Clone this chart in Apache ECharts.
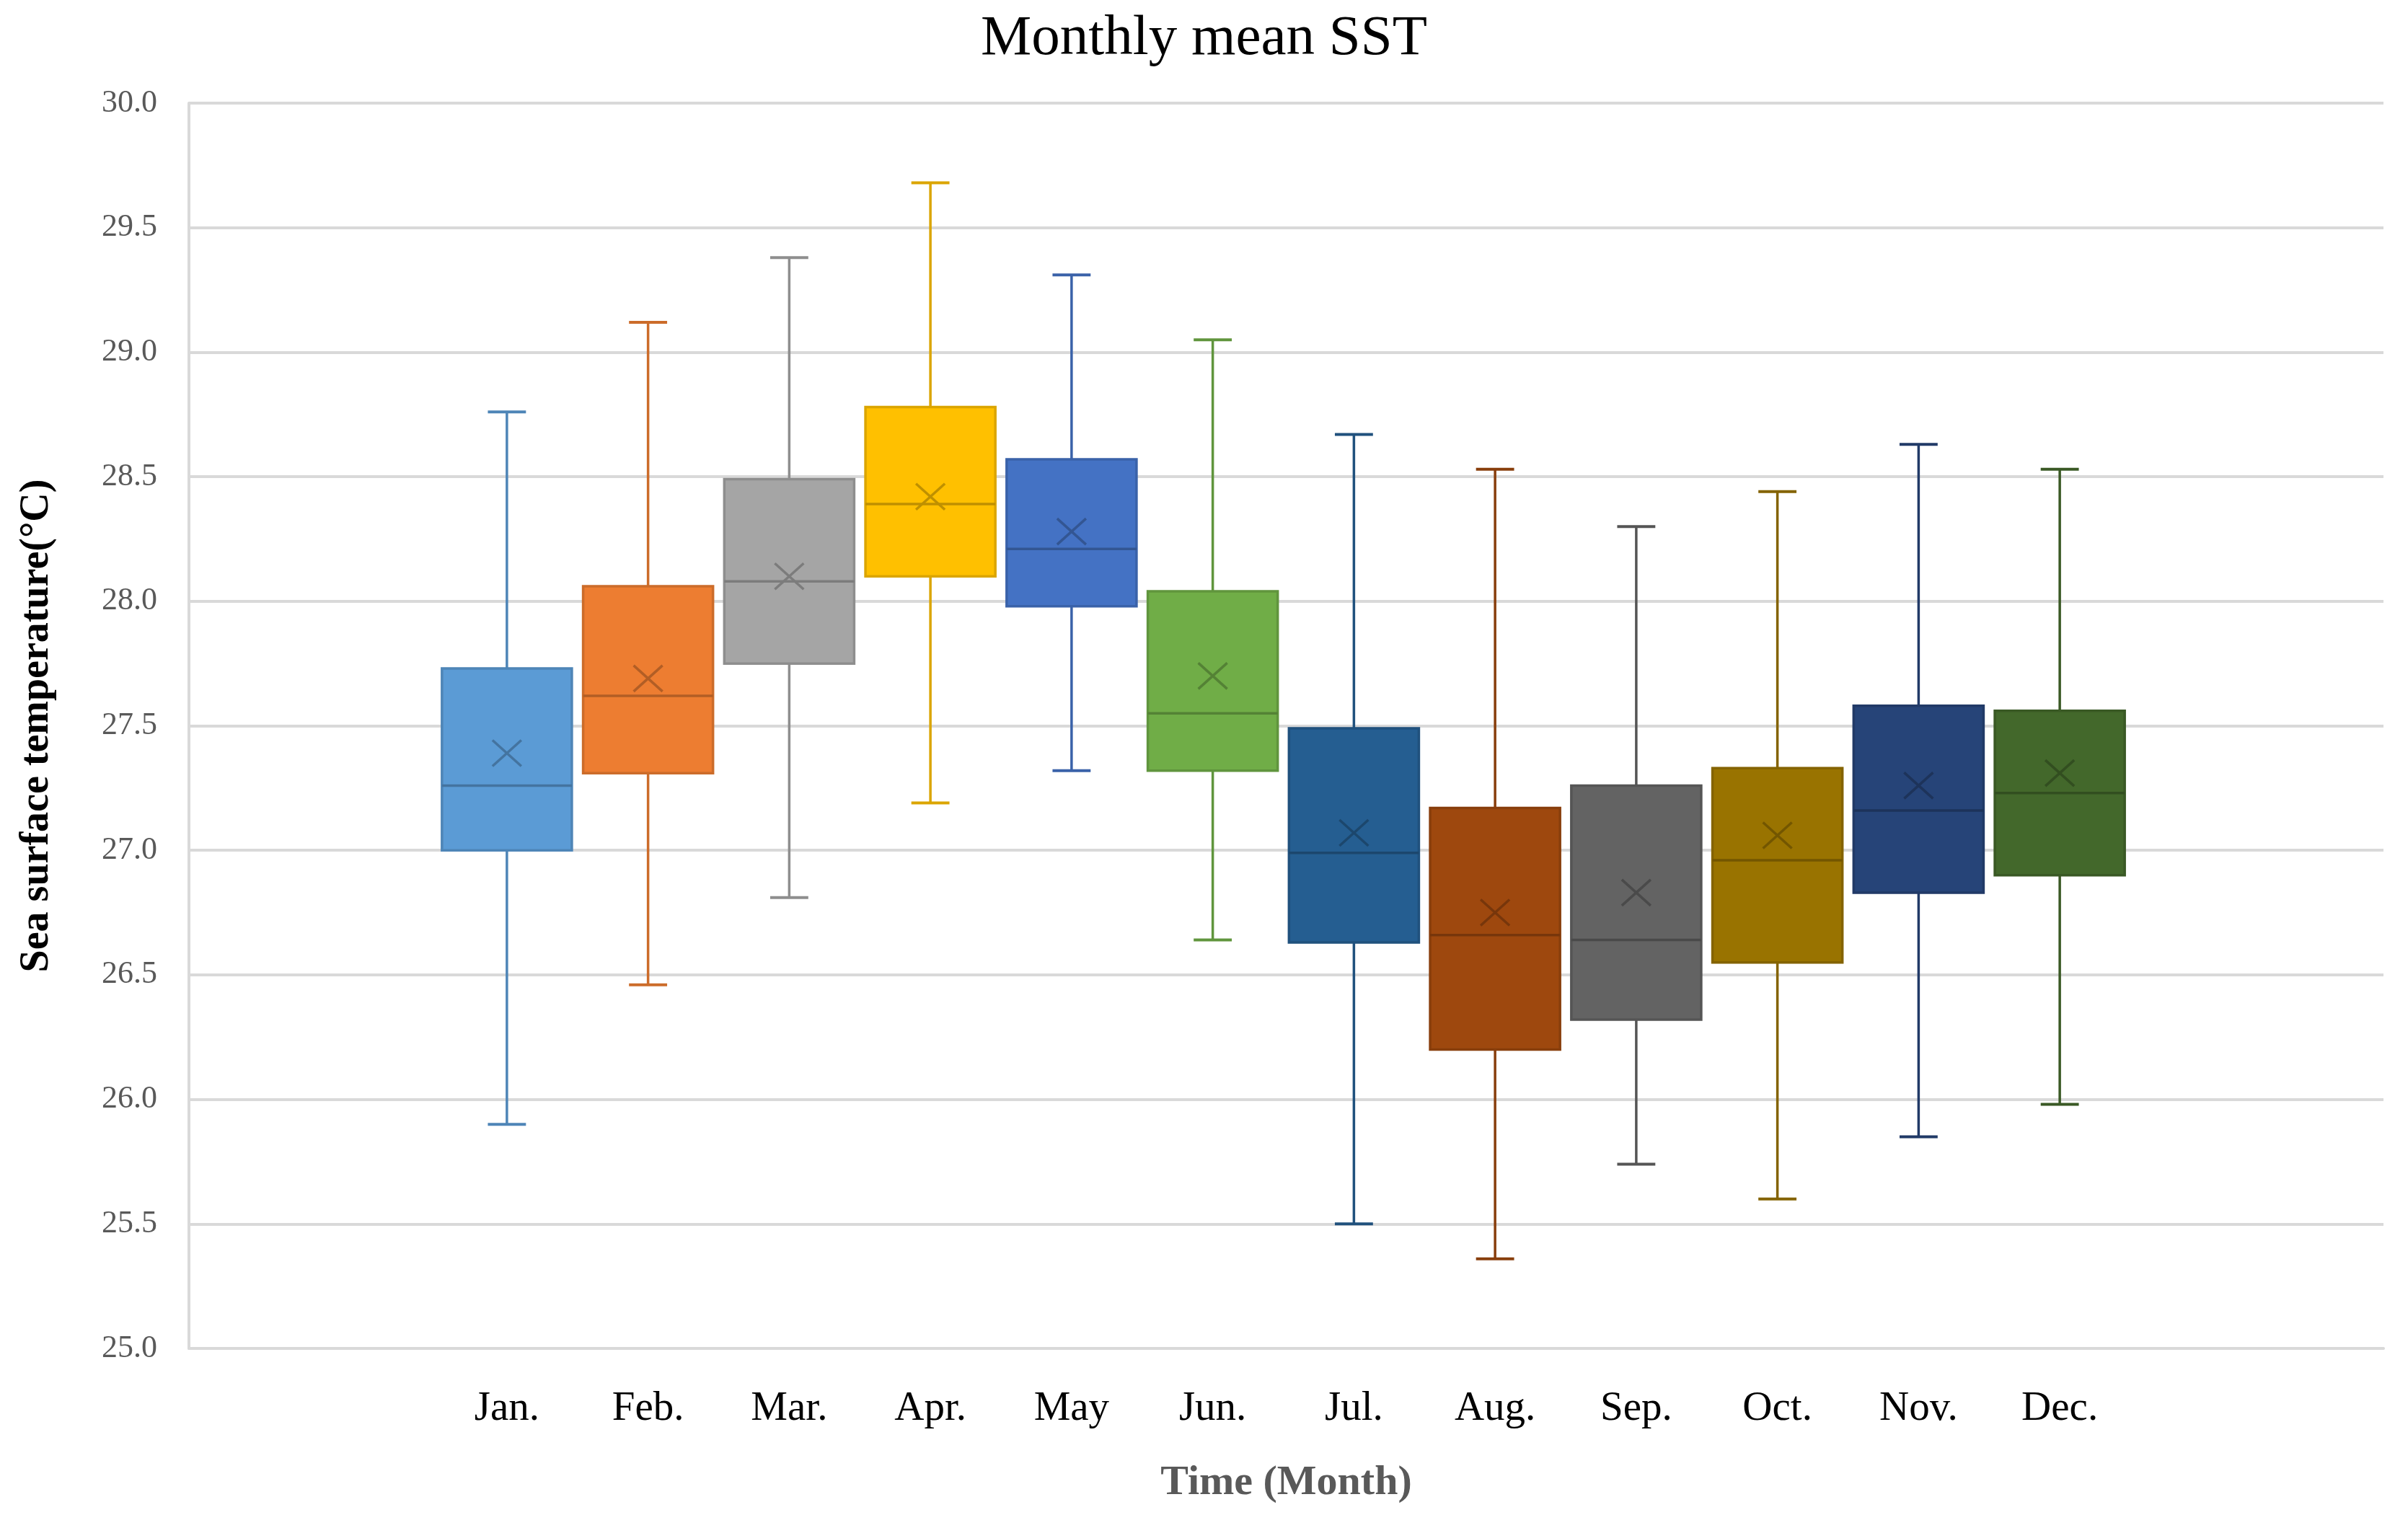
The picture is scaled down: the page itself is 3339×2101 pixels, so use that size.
<!DOCTYPE html>
<html>
<head>
<meta charset="utf-8">
<script src="https://cdn.jsdelivr.net/npm/echarts@6/dist/echarts.min.js"></script>
<style>
html,body{margin:0;padding:0;background:#fff;}
#chart{width:3339px;height:2101px;}
</style>
</head>
<body>
<div id="chart"></div>
<script>
const months = ['Jan.','Feb.','Mar.','Apr.','May','Jun.','Jul.','Aug.','Sep.','Oct.','Nov.','Dec.'];
const whiskerLow  = [25.90, 26.46, 26.81, 27.19, 27.32, 26.64, 25.50, 25.36, 25.74, 25.60, 25.85, 25.98];
const quartile1   = [27.00, 27.31, 27.75, 28.10, 27.98, 27.32, 26.63, 26.20, 26.32, 26.55, 26.83, 26.90];
const medians     = [27.26, 27.62, 28.08, 28.39, 28.21, 27.55, 26.99, 26.66, 26.64, 26.96, 27.16, 27.23];
const quartile3   = [27.73, 28.06, 28.49, 28.78, 28.57, 28.04, 27.49, 27.17, 27.26, 27.33, 27.58, 27.56];
const whiskerHigh = [28.76, 29.12, 29.38, 29.68, 29.31, 29.05, 28.67, 28.53, 28.30, 28.44, 28.63, 28.53];
const meanValues  = [27.39, 27.69, 28.10, 28.42, 28.28, 27.70, 27.07, 26.75, 26.83, 27.06, 27.26, 27.31];
const yMin = 25.0, yMax = 30.0, yStep = 0.5;

const fillColors = ['#5B9BD5','#ED7D31','#A5A5A5','#FFC000','#4472C4','#70AD47',
                    '#255E91','#9E480E','#636363','#997300','#264478','#43682B'];

function shade(hex, f) {
  const n = parseInt(hex.slice(1), 16);
  const r = Math.round(((n >> 16) & 255) * (1 - f));
  const g = Math.round(((n >> 8) & 255) * (1 - f));
  const b = Math.round((n & 255) * (1 - f));
  return 'rgb(' + r + ',' + g + ',' + b + ')';
}

const boxData = months.map((m, i) => [i, whiskerLow[i], quartile1[i], medians[i], quartile3[i], whiskerHigh[i], meanValues[i]]);

const serif = '"Liberation Serif", "Times New Roman", serif';
const gridColor = '#d9d9d9';

const chart = echarts.init(document.getElementById('chart'), null, {renderer: 'canvas'});

function renderItem(params, api) {
  const idx = api.value(0);
  const i = params.dataIndex;
  const fill = fillColors[i];
  const line = shade(fill, 0.14);
  const dark = shade(fill, 0.25);
  const pLow = api.coord([idx, api.value(1)]);
  const pQ1 = api.coord([idx, api.value(2)]);
  const pMed = api.coord([idx, api.value(3)]);
  const pQ3 = api.coord([idx, api.value(4)]);
  const pHigh = api.coord([idx, api.value(5)]);
  const pMean = api.coord([idx, api.value(6)]);
  const slot = api.size([1, 0])[0];
  const bw = slot * 0.92;
  const cw = slot * 0.27;
  const cx = pQ1[0];
  const mx = 20, my = 18;
  return {
    type: 'group',
    children: [
      {type: 'line', shape: {x1: cx, y1: pLow[1], x2: cx, y2: pHigh[1]}, style: {stroke: line, lineWidth: 3.5}},
      {type: 'line', shape: {x1: cx - cw / 2, y1: pLow[1], x2: cx + cw / 2, y2: pLow[1]}, style: {stroke: line, lineWidth: 4}},
      {type: 'line', shape: {x1: cx - cw / 2, y1: pHigh[1], x2: cx + cw / 2, y2: pHigh[1]}, style: {stroke: line, lineWidth: 4}},
      {type: 'rect', shape: {x: cx - bw / 2, y: pQ3[1], width: bw, height: pQ1[1] - pQ3[1]},
        style: {fill: fill, stroke: line, lineWidth: 3.5}},
      {type: 'line', shape: {x1: cx - bw / 2, y1: pMed[1], x2: cx + bw / 2, y2: pMed[1]}, style: {stroke: dark, lineWidth: 3.5}},
      {type: 'line', shape: {x1: cx - mx, y1: pMean[1] - my, x2: cx + mx, y2: pMean[1] + my}, style: {stroke: dark, lineWidth: 3.5}},
      {type: 'line', shape: {x1: cx - mx, y1: pMean[1] + my, x2: cx + mx, y2: pMean[1] - my}, style: {stroke: dark, lineWidth: 3.5}}
    ]
  };
}

const option = {
  backgroundColor: '#ffffff',
  animation: false,
  title: {
    text: 'Monthly mean SST',
    left: 'center',
    top: 10,
    textStyle: {fontFamily: serif, fontSize: 79, fontWeight: 'normal', color: '#000000'}
  },
  grid: [
    {left: 262, right: 34, top: 143, bottom: 231, containLabel: false},
    {left: 605, right: 385, top: 143, bottom: 231, containLabel: false}
  ],
  xAxis: [
    {
      gridIndex: 0, type: 'category', data: [''], boundaryGap: true,
      name: 'Time (Month)', nameLocation: 'middle', nameGap: 158,
      nameTextStyle: {fontFamily: serif, fontSize: 58, fontWeight: 'bold', color: '#595959'},
      axisLine: {show: true, lineStyle: {color: gridColor, width: 4}},
      axisTick: {show: false}, axisLabel: {show: false}, splitLine: {show: false}
    },
    {
      gridIndex: 1, type: 'category', data: months, boundaryGap: true,
      axisLine: {show: false}, axisTick: {show: false}, splitLine: {show: false},
      axisLabel: {fontFamily: serif, fontSize: 57, color: '#000000', margin: 56, interval: 0}
    }
  ],
  yAxis: [
    {
      gridIndex: 0, type: 'value', min: yMin, max: yMax, interval: yStep,
      name: 'Sea surface temperature(°C)', nameLocation: 'middle', nameRotate: 90, nameGap: 182,
      nameTextStyle: {fontFamily: serif, fontSize: 56, fontWeight: 'bold', color: '#000000'},
      axisLine: {show: true, lineStyle: {color: gridColor, width: 4}},
      axisTick: {show: false},
      axisLabel: {fontFamily: serif, fontSize: 44, color: '#595959', margin: 44,
        formatter: v => v.toFixed(1)},
      splitLine: {show: true, lineStyle: {color: gridColor, width: 4}}
    },
    {
      gridIndex: 1, type: 'value', min: yMin, max: yMax, interval: yStep,
      show: false, splitLine: {show: false}
    }
  ],
  series: [
    {
      type: 'custom',
      xAxisIndex: 1, yAxisIndex: 1,
      renderItem: renderItem,
      encode: {x: 0, y: [1, 2, 3, 4, 5, 6]},
      data: boxData,
      clip: false
    }
  ]
};
chart.setOption(option);
</script>
</body>
</html>
